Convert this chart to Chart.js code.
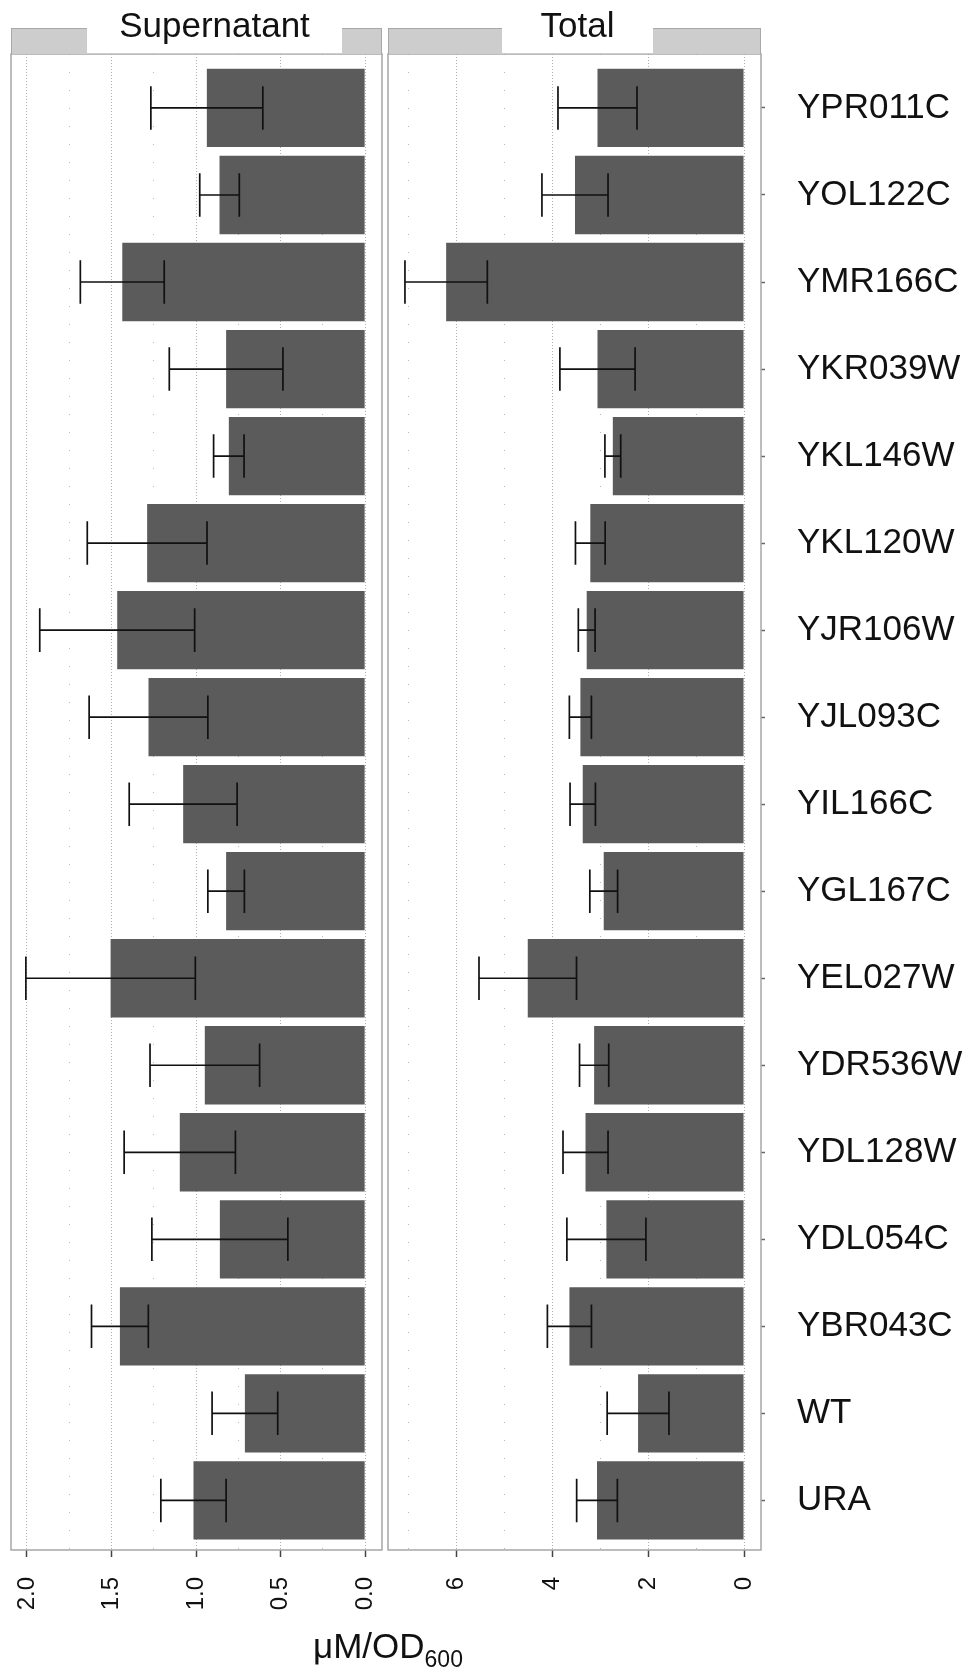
<!DOCTYPE html>
<html>
<head>
<meta charset="utf-8">
<script src="https://cdn.jsdelivr.net/npm/chart.js@4.4.0/dist/chart.umd.min.js"></script>
<style>
  html, body { margin: 0; padding: 0; background: #fff; }
  body { width: 969px; height: 1674px; position: relative; overflow: hidden;
         font-family: Arial, "Liberation Sans", sans-serif; color: #111; }
  canvas { position: absolute; top: 0; }
  #supCanvas { left: 0; }
  #totCanvas { left: 386px; }
  .strip { position: absolute; top: 28px; height: 26px; background: #cdcdcd;
           border: 1px solid #a8a8a8; border-bottom: none; box-sizing: border-box; }
  .stripGap { position: absolute; top: 27px; height: 26px; background: #fff; }
  .stripText { position: absolute; top: 7px; font-size: 35px; line-height: 35px;
               text-align: center; white-space: nowrap; }
  #xTitle { position: absolute; left: 188px; width: 400px; top: 1628px; font-size: 35px;
            line-height: 35px; text-align: center; white-space: nowrap; }
  #xTitle span { font-size: 23px; position: relative; top: 9px; }
</style>
</head>
<body>
<canvas id="supCanvas" width="386" height="1674"></canvas>
<canvas id="totCanvas" width="583" height="1674"></canvas>

<div class="strip" style="left:11px;width:371px"></div>
<div class="stripGap" style="left:87px;width:255px"></div>
<div class="stripText" style="left:87px;width:255px">Supernatant</div>

<div class="strip" style="left:388px;width:373px"></div>
<div class="stripGap" style="left:502px;width:151px"></div>
<div class="stripText" style="left:502px;width:151px">Total</div>

<div id="xTitle">μM/OD<span>600</span></div>

<script>
// strains, top to bottom
const categories = ['YPR011C', 'YOL122C', 'YMR166C', 'YKR039W', 'YKL146W', 'YKL120W',
    'YJR106W', 'YJL093C', 'YIL166C', 'YGL167C', 'YEL027W', 'YDR536W', 'YDL128W',
    'YDL054C', 'YBR043C', 'WT', 'URA'];

// Supernatant, μM/OD600 (mean and error half-width)
const supMean = [0.936, 0.861, 1.436, 0.822, 0.806, 1.289, 1.466, 1.281, 1.076, 0.822,
    1.505, 0.948, 1.096, 0.859, 1.450, 0.711, 1.015];
const supErr = [0.331, 0.117, 0.248, 0.336, 0.090, 0.354, 0.458, 0.351, 0.319, 0.108,
    0.501, 0.324, 0.329, 0.402, 0.168, 0.194, 0.193];

// Total, μM/OD600
const totMean = [3.06, 3.53, 6.22, 3.06, 2.74, 3.21, 3.285, 3.417, 3.368, 2.93,
    4.516, 3.13, 3.31, 2.874, 3.646, 2.213, 3.07];
const totErr = [0.825, 0.69, 0.86, 0.785, 0.165, 0.31, 0.175, 0.23, 0.265, 0.29,
    1.018, 0.305, 0.47, 0.825, 0.46, 0.645, 0.425];

// labelled x ticks
const supTickVals = [0, 0.5, 1.0, 1.5, 2.0];
const supTickLabels = ['0.0', '0.5', '1.0', '1.5', '2.0'];
const totTickVals = [0, 2, 4, 6];
const totTickLabels = ['0', '2', '4', '6'];

Chart.defaults.font.family = 'Arial, "Liberation Sans", sans-serif';
Chart.defaults.color = '#111';

const panelFrame = {
    id: 'panelFrame',
    beforeDraw(chart) {
        const { ctx, chartArea: a } = chart;
        ctx.save();
        ctx.fillStyle = '#fff';
        ctx.fillRect(a.left, a.top, a.width, a.height);
        ctx.restore();
    },
    afterDraw(chart) {
        const { ctx, chartArea: a } = chart;
        ctx.save();
        ctx.strokeStyle = '#a6a6a6';
        ctx.lineWidth = 1.5;
        ctx.strokeRect(a.left, a.top, a.width, a.height);
        ctx.restore();
    }
};

const errorBars = {
    id: 'errorBars',
    afterDatasetsDraw(chart, args, opts) {
        const { ctx, scales: { x, y } } = chart;
        const pts = chart.data.datasets[0].data;
        const half = Math.abs(y.getPixelForValue(0.25) - y.getPixelForValue(0));
        ctx.save();
        ctx.strokeStyle = '#111';
        ctx.lineWidth = 1.7;
        pts.forEach((p, i) => {
            const e = opts.errors[i];
            const yc = y.getPixelForValue(p.y);
            const x1 = x.getPixelForValue(p.x - e);
            const x2 = x.getPixelForValue(p.x + e);
            ctx.beginPath();
            ctx.moveTo(x1, yc); ctx.lineTo(x2, yc);
            ctx.moveTo(x1, yc - half); ctx.lineTo(x1, yc + half);
            ctx.moveTo(x2, yc - half); ctx.lineTo(x2, yc + half);
            ctx.stroke();
        });
        ctx.restore();
    }
};

function isMajor(v, vals) {
    return vals.some(t => Math.abs(t - v) < 1e-6);
}

function makePanel(id, means, errs, cfg) {
    const showCats = cfg.showCats;
    return new Chart(document.getElementById(id), {
        type: 'bar',
        data: {
            labels: categories,
            datasets: [{
                data: means.map((v, i) => ({ x: v, y: i })),
                backgroundColor: '#5b5b5b',
                borderWidth: 0,
                barPercentage: 0.9,
                categoryPercentage: 1.0
            }]
        },
        options: {
            indexAxis: 'y',
            responsive: false,
            animation: false,
            devicePixelRatio: 1,
            layout: { padding: cfg.padding },
            plugins: {
                legend: { display: false },
                tooltip: { enabled: false },
                errorBars: { errors: errs }
            },
            scales: {
                x: {
                    type: 'linear',
                    reverse: true,
                    min: cfg.min,
                    max: cfg.max,
                    ticks: {
                        stepSize: cfg.step,
                        includeBounds: false,
                        autoSkip: false,
                        minRotation: 90,
                        maxRotation: 90,
                        padding: 20,
                        font: { size: 24 },
                        callback: v => {
                            const k = cfg.tickVals.findIndex(t => Math.abs(t - v) < 1e-6);
                            return k >= 0 ? cfg.tickLabels[k] : '';
                        }
                    },
                    grid: {
                        color: c => (c.tick && isMajor(c.tick.value, cfg.tickVals)) ? '#b0b0b0' : '#b8b8b8',
                        lineWidth: 1,
                        tickLength: 7,
                        tickWidth: 1.5,
                        tickColor: c => (c.tick && isMajor(c.tick.value, cfg.tickVals)) ? '#444' : 'rgba(0,0,0,0)',
                        tickBorderDash: []
                    },
                    border: {
                        display: false,
                        dash: c => (c.tick && isMajor(c.tick.value, cfg.tickVals)) ? [1, 2] : [1, 17]
                    },
                    afterFit: s => { s.height = 124; s.paddingLeft = 0; s.paddingRight = 0; }
                },
                y: {
                    type: 'linear',
                    reverse: true,
                    offset: false,
                    min: -0.62,
                    max: 16.57,
                    display: showCats,
                    position: 'right',
                    ticks: {
                        stepSize: 1,
                        includeBounds: false,
                        autoSkip: false,
                        padding: 32,
                        font: { size: 35 },
                        callback: v => categories[v] ?? ''
                    },
                    grid: {
                        offset: false,
                        drawOnChartArea: false,
                        tickLength: 4,
                        tickColor: '#666',
                        tickWidth: 1.5
                    },
                    border: { display: false },
                    afterFit: s => {
                        if (showCats) s.width = 208;
                        s.paddingTop = 0; s.paddingBottom = 0;
                    }
                }
            }
        },
        plugins: [panelFrame, errorBars]
    });
}

makePanel('supCanvas', supMean, supErr, {
    showCats: false,
    padding: { left: 11, right: 4, top: 54, bottom: 0 },
    min: -0.0997, max: 2.094, step: 0.25,
    tickVals: supTickVals, tickLabels: supTickLabels
});

makePanel('totCanvas', totMean, totErr, {
    showCats: true,
    padding: { left: 2, right: 0, top: 54, bottom: 0 },
    min: -0.354, max: 7.434, step: 1,
    tickVals: totTickVals, tickLabels: totTickLabels
});
</script>
</body>
</html>
